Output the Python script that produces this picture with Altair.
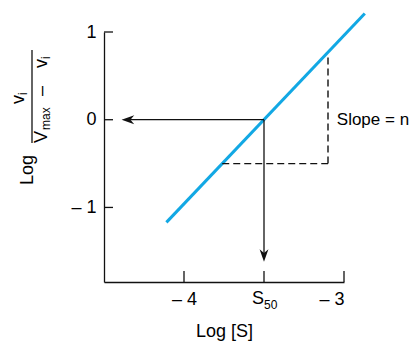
import altair as alt
import pandas as pd

# ---- values ----
x_domain = [-4.5, -3.0]
y_domain = [-1.85, 1.0]
x_tick_values = [-4.0, -3.5, -3.0]
x_label_values = [-4.0, -3.0]
y_tick_values = [-1.0, 0.0, 1.0]

# Hill plot line (log S vs log v/(Vmax - v))
line_x = [-4.11, -2.87]
line_y = [-1.17, 1.21]

# S50 point and arrows
s50_x = -3.5
s50_y = 0.0
arrow_left_tip = -4.39
arrow_down_tip = -1.62

# slope triangle (dashed)
tri_x = [-3.761, -3.1]
tri_y = [-0.5, 0.74]

slope_label = ["Slope = n"]
slope_pos = [-3.045, 0.0]
x_title = "Log [S]"
s50_label = ["S", "50"]
y_title_parts = ["Log", "v", "i", "V", "max", "–", "v", "i"]

FONT = "Liberation Sans"
FS = 18
FS_SUB = 12
INK = "#111111"
BLUE = "#12a8e4"
W, H = 240, 250

x_scale = alt.Scale(domain=x_domain, nice=False, zero=False)
y_scale = alt.Scale(domain=y_domain, nice=False, zero=False)

line_df = pd.DataFrame({"x": line_x, "y": line_y})
base_line = alt.Chart(line_df).mark_line(color=BLUE, strokeWidth=3, clip=False).encode(
    x=alt.X("x:Q", scale=x_scale, axis=alt.Axis(
        values=x_label_values, ticks=False, tickSize=0, grid=False,
        labelExpr="'– ' + abs(datum.value)", labelPadding=8,
        labelFont=FONT, labelFontSize=FS, labelColor="#000",
        domainColor=INK, domainWidth=1.3,
        title=x_title, titleFont=FONT, titleFontSize=FS, titleFontWeight="normal",
        titleColor="#000", titlePadding=14)),
    y=alt.Y("y:Q", scale=y_scale, axis=alt.Axis(
        values=y_tick_values, ticks=False, tickSize=0, grid=False,
        labelExpr="datum.value < 0 ? '– ' + abs(datum.value) : '' + datum.value",
        labelPadding=8, labelFont=FONT, labelFontSize=FS, labelColor="#000",
        domainColor=INK, domainWidth=1.3, title=None)),
)

# inward ticks
xt = alt.Chart(pd.DataFrame({"x": x_tick_values})).mark_rule(color=INK, strokeWidth=1.3).encode(
    x=alt.X("x:Q", scale=x_scale), y=alt.value(H), y2=alt.value(H - 11))
yt = alt.Chart(pd.DataFrame({"y": y_tick_values})).mark_rule(color=INK, strokeWidth=1.3).encode(
    y=alt.Y("y:Q", scale=y_scale), x=alt.value(0), x2=alt.value(9))

# arrows from S50 point
arrow_df = pd.DataFrame({
    "x": [s50_x, s50_x], "x2": [arrow_left_tip + 0.03, s50_x],
    "y": [s50_y, s50_y], "y2": [s50_y, arrow_down_tip + 0.05]})
arrows = alt.Chart(arrow_df).mark_rule(color=INK, strokeWidth=1.3).encode(
    x=alt.X("x:Q", scale=x_scale), x2="x2:Q",
    y=alt.Y("y:Q", scale=y_scale), y2="y2:Q")

left_head = alt.Chart(pd.DataFrame({"x": [arrow_left_tip], "y": [s50_y]})).mark_point(
    shape="M0,0 L2,-0.7 L1.4,0 L2,0.7 Z", filled=True, size=160, color=INK, opacity=1).encode(
    x=alt.X("x:Q", scale=x_scale), y=alt.Y("y:Q", scale=y_scale))
down_head = alt.Chart(pd.DataFrame({"x": [s50_x], "y": [arrow_down_tip]})).mark_point(
    shape="M0,0 L-0.7,-2 L0,-1.4 L0.7,-2 Z", filled=True, size=160, color=INK, opacity=1).encode(
    x=alt.X("x:Q", scale=x_scale), y=alt.Y("y:Q", scale=y_scale))

# dashed slope triangle
tri_df = pd.DataFrame({
    "x": [tri_x[0], tri_x[1]], "x2": [tri_x[1], tri_x[1]],
    "y": [tri_y[0], tri_y[0]], "y2": [tri_y[0], tri_y[1]]})
tri = alt.Chart(tri_df).mark_rule(color=INK, strokeWidth=1.4, strokeDash=[7, 4]).encode(
    x=alt.X("x:Q", scale=x_scale), x2="x2:Q",
    y=alt.Y("y:Q", scale=y_scale), y2="y2:Q")

slope_txt = alt.Chart(pd.DataFrame({"x": [slope_pos[0]], "y": [slope_pos[1]], "t": slope_label})).mark_text(
    font=FONT, fontSize=17, align="left", baseline="middle", color="#000").encode(
    x=alt.X("x:Q", scale=x_scale), y=alt.Y("y:Q", scale=y_scale), text="t:N")

# S50 tick label with subscript
s_main = alt.Chart(pd.DataFrame({"x": [s50_x], "t": [s50_label[0]]})).mark_text(
    font=FONT, fontSize=FS, align="right", baseline="top", dx=0, color="#000").encode(
    x=alt.X("x:Q", scale=x_scale), y=alt.value(H + 8), text="t:N")
s_sub = alt.Chart(pd.DataFrame({"x": [s50_x], "t": [s50_label[1]]})).mark_text(
    font=FONT, fontSize=FS_SUB, align="left", baseline="top", dx=0, color="#000").encode(
    x=alt.X("x:Q", scale=x_scale), y=alt.value(H + 18), text="t:N")


def txt(s, x, y, size=FS, align="left", baseline="alphabetic"):
    return alt.Chart(pd.DataFrame({"t": [s]})).mark_text(
        font=FONT, fontSize=size, angle=270, align=align, baseline=baseline,
        color="#000").encode(x=alt.value(x), y=alt.value(y), text="t:N")


p = y_title_parts
ytitle = [
    txt(p[0], -71, 138, align="center"),
    txt(p[1], -80, 72),
    txt(p[2], -77, 63, size=FS_SUB),
    txt(p[3], -57, 111),
    txt(p[4], -54, 98, size=FS_SUB),
    txt(p[5], -57, 64),
    txt(p[6], -57, 36),
    txt(p[7], -54, 27, size=FS_SUB),
]
frac_bar = alt.Chart(pd.DataFrame({"a": [0]})).mark_rule(color=INK, strokeWidth=1.3).encode(
    x=alt.value(-72), y=alt.value(18), y2=alt.value(111))

chart = alt.layer(
    base_line, xt, yt, tri, arrows, left_head, down_head, slope_txt, s_main, s_sub,
    frac_bar, *ytitle
).properties(
    width=W, height=H,
    autosize=alt.AutoSizeParams(type="none"),
    padding={"left": 96, "top": 24, "right": 66, "bottom": 59},
).configure_view(stroke=None)

chart.save("out.html", embed_options={"renderer": "svg", "actions": False})
